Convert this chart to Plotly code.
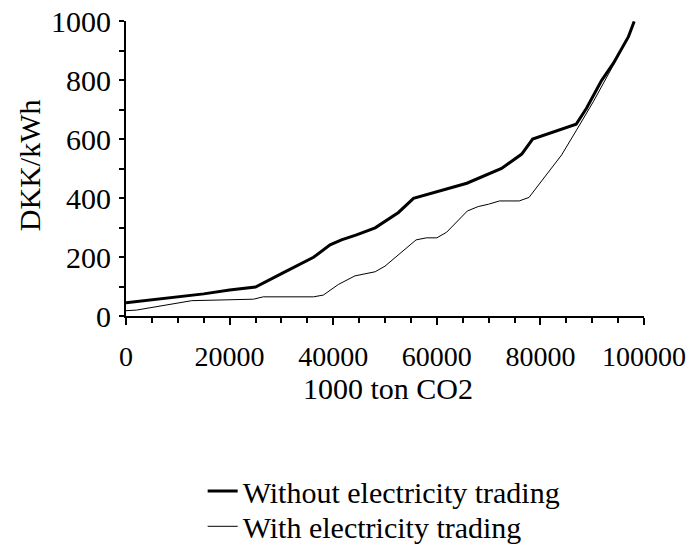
import plotly.graph_objects as go

# Marginal abatement cost curves (DKK/kWh vs. 1000 ton CO2 reduced)
without_x = [0, 5000, 10000, 15000, 20000, 25000, 30400, 36200, 39400, 41600,
             44500, 48100, 52600, 55500, 65800, 72500, 76400, 78500, 86900,
             88900, 91800, 94100, 97000, 98100]
without_y = [45, 55, 63, 75, 88, 98, 147, 199, 241, 258,
             275, 299, 351, 399, 450, 500, 549, 600, 650,
             704, 798, 857, 947, 998]

with_x = [0, 2000, 12700, 24600, 26500, 36200, 38100, 41000, 44200, 48100,
          50000, 52800, 56000, 58000, 60000, 61900, 65900, 68000, 70000,
          72100, 75900, 77800, 81500, 84100, 87000, 90200, 94100, 97000, 98100]
with_y = [18, 20, 52, 57, 65, 65, 71, 107, 136, 150,
          169, 212, 258, 265, 265, 284, 356, 371, 379,
          390, 390, 402, 489, 546, 631, 726, 851, 947, 998]

series_names = ["Without electricity trading", "With electricity trading"]
x_title = "1000 ton CO2"
y_title = "DKK/kWh"

FONT = "Liberation Serif, Times New Roman, serif"
SIZE = 30
TXT = dict(family=FONT, size=SIZE, color="black")
XTICK = dict(family=FONT, size=28, color="black")

fig = go.Figure()
fig.add_trace(go.Scatter(x=without_x, y=without_y, mode="lines",
                         name=series_names[0], legend="legend",
                         line=dict(color="black", width=3)))
fig.add_trace(go.Scatter(x=with_x, y=with_y, mode="lines",
                         name=series_names[1], legend="legend2",
                         line=dict(color="black", width=1)))

axis_common = dict(
    showgrid=False, zeroline=False, showline=True, linecolor="black",
    linewidth=2, ticks="outside", tickcolor="black", tickwidth=2,
    automargin=False, ticklabeloverflow="allow",
)

fig.update_xaxes(
    range=[0, 100000], dtick=20000, tick0=0, ticklen=7, tickformat="d",
    minor=dict(dtick=5000, tick0=0, ticks="outside", ticklen=5,
               tickwidth=2, tickcolor="black"),
    tickfont=XTICK, ticklabelstandoff=7,
    **axis_common,
)
fig.update_yaxes(
    range=[0, 1000], dtick=200, tick0=0, ticklen=5, tickformat="d",
    minor=dict(dtick=100, tick0=0, ticks="outside", ticklen=5,
               tickwidth=2, tickcolor="black"),
    tickfont=TXT, ticklabelstandoff=2,
    **axis_common,
)

# Axis titles
fig.add_annotation(text=x_title, xref="paper", yref="paper",
                   x=0.506, y=-0.247, xanchor="center", yanchor="middle",
                   showarrow=False, font=TXT)
fig.add_annotation(text=y_title, xref="paper", yref="paper",
                   x=-0.185, y=0.512, xanchor="center", yanchor="middle",
                   textangle=-90, showarrow=False, font=TXT)

legend_style = dict(xref="container", yref="container",
                    xanchor="left", yanchor="top", font=TXT,
                    bgcolor="rgba(0,0,0,0)", itemwidth=30)

fig.update_layout(
    width=687, height=551,
    margin=dict(l=126, r=43, t=21, b=235, autoexpand=False),
    plot_bgcolor="white", paper_bgcolor="white",
    font=TXT,
    showlegend=True,
    legend=dict(x=0.295, y=0.156, **legend_style),
    legend2=dict(x=0.295, y=0.092, **legend_style),
)

fig.write_html("out.html")
